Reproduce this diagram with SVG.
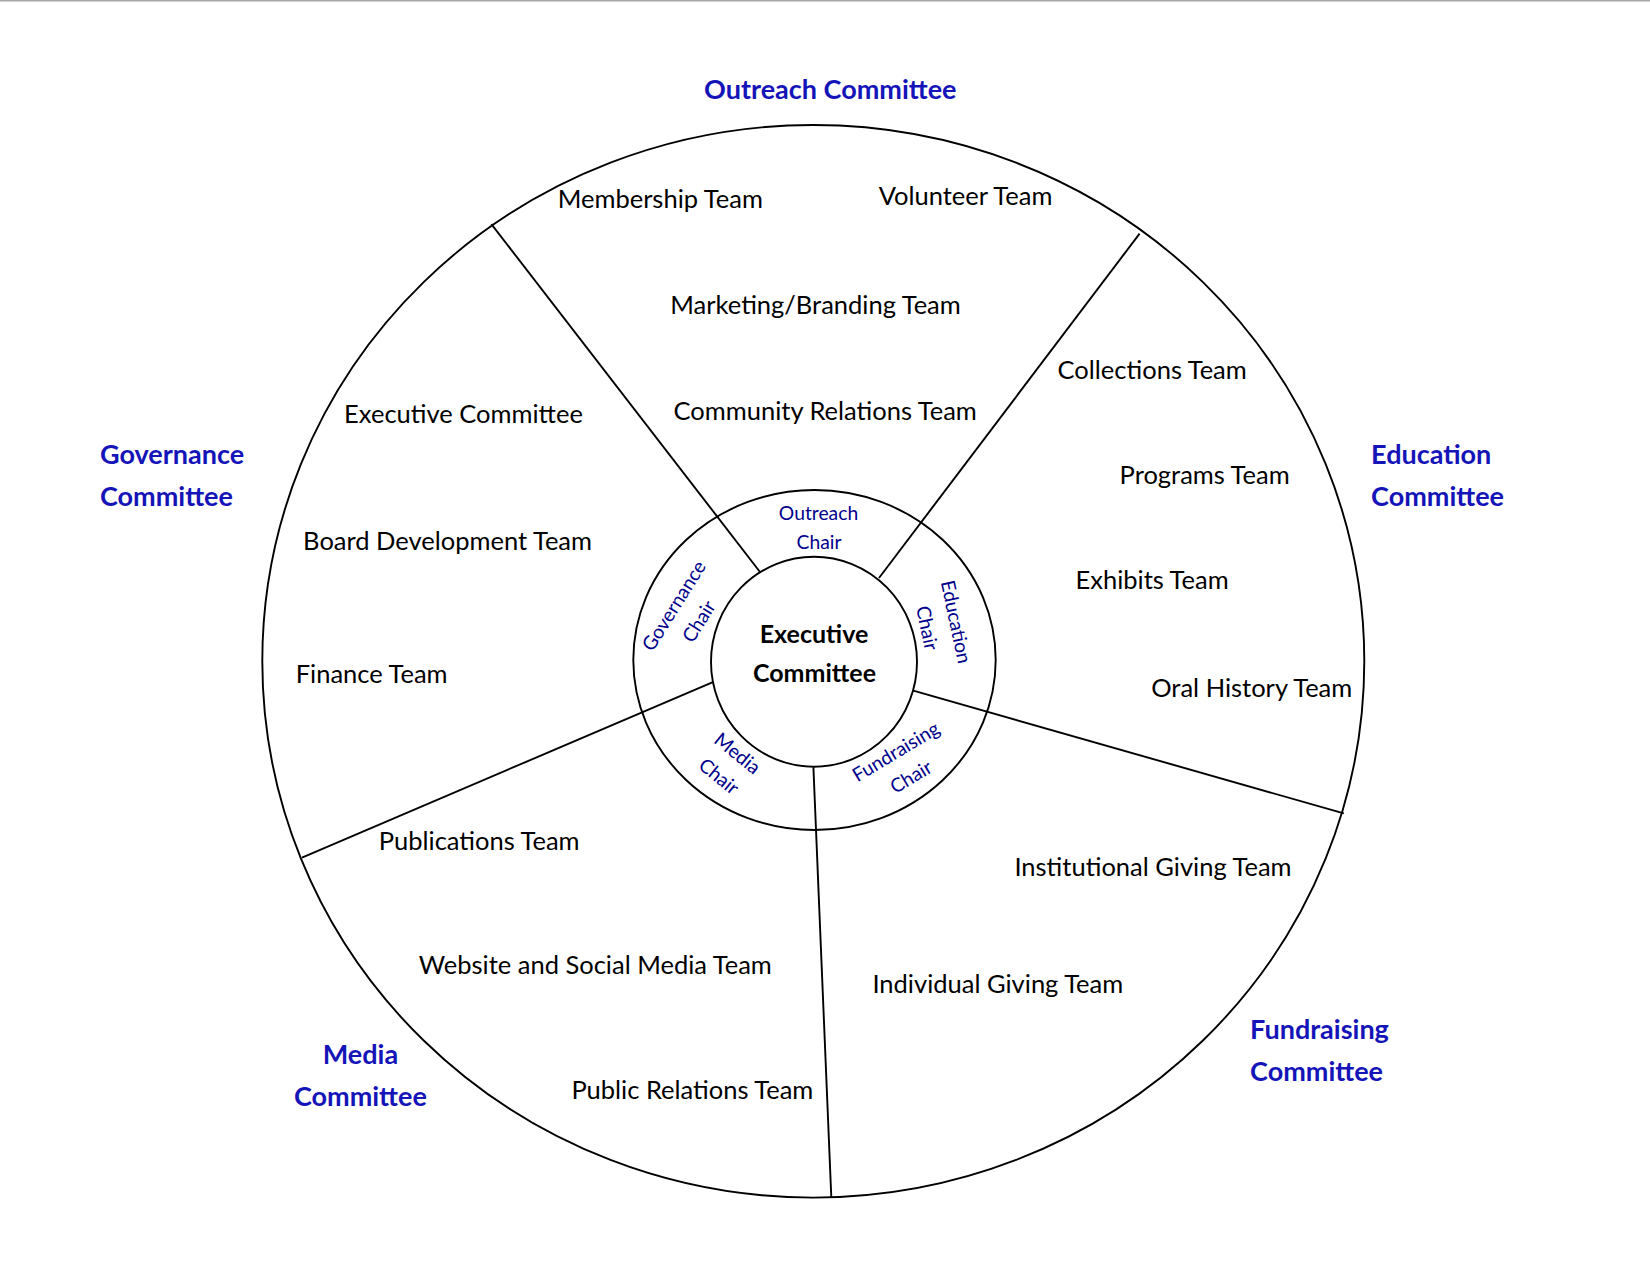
<svg xmlns="http://www.w3.org/2000/svg" width="1650" height="1275" viewBox="0 0 1650 1275">
<style>
.ring{fill:none;stroke:#000;stroke-width:1.9}
.spoke{stroke:#000;stroke-width:1.9;fill:none}
.team{font-family:Lato,"Liberation Sans",sans-serif;font-size:25.5px;fill:#000}
.comm{font-family:Lato,"Liberation Sans",sans-serif;font-size:27px;font-weight:bold;fill:#1414b8}
.exec{font-family:Lato,"Liberation Sans",sans-serif;font-size:25px;font-weight:bold;fill:#000;text-anchor:middle}
.chair{font-family:Lato,"Liberation Sans",sans-serif;font-size:19.3px;fill:#00008b;text-anchor:middle}
</style>
<rect x="0" y="0" width="1650" height="1275" fill="#fff"/>
<rect x="0" y="0" width="1650" height="1.5" fill="#a8a8a8"/>
<g id="wheel">
<ellipse class="ring" cx="813.3" cy="661.3" rx="551" ry="536.3"/>
<ellipse class="ring" cx="814.5" cy="660" rx="181.2" ry="170"/>
<ellipse class="ring" cx="814" cy="661.7" rx="103" ry="105"/>
</g>
<g id="spokes">
<line class="spoke" x1="491.4" y1="224.1" x2="760" y2="572"/>
<line class="spoke" x1="1139.6" y1="233.6" x2="879" y2="578"/>
<line class="spoke" x1="1343.8" y1="813.4" x2="913.3" y2="690.7"/>
<line class="spoke" x1="831.3" y1="1197.5" x2="813.4" y2="767.3"/>
<line class="spoke" x1="302" y1="857.6" x2="712.3" y2="682.3"/>
</g>
<g id="executive">
<text class="exec" x="814" y="643.3">Executive</text>
<text class="exec" x="814.5" y="682.3">Committee</text>
</g>
<g id="outreach">
<text class="comm" x="830.3" y="98.9" text-anchor="middle">Outreach Committee</text>
<text class="chair" x="818.5" y="520">Outreach</text>
<text class="chair" x="819" y="549.3">Chair</text>
<text class="team" x="557.7" y="208.4">Membership Team</text>
<text class="team" x="878.7" y="205.2">Volunteer Team</text>
<text class="team" x="670.3" y="313.6">Marketing/Branding Team</text>
<text class="team" x="673.5" y="419.9">Community Relations Team</text>
</g>
<g id="education">
<text class="comm" x="1371.1" y="464.1">Education</text>
<text class="comm" x="1371.1" y="506.2">Committee</text>
<g transform="translate(955.3,622) rotate(78)">
<text class="chair" x="0" y="6">Education</text>
<text class="chair" x="0" y="35.5">Chair</text>
</g>
<text class="team" x="1057.6" y="378.8">Collections Team</text>
<text class="team" x="1119.6" y="484.1">Programs Team</text>
<text class="team" x="1075.5" y="589.3">Exhibits Team</text>
<text class="team" x="1151.2" y="696.6">Oral History Team</text>
</g>
<g id="governance">
<text class="comm" x="100" y="464.1">Governance</text>
<text class="comm" x="100" y="506.2">Committee</text>
<g transform="translate(674.5,606.2) rotate(-58)">
<text class="chair" x="0" y="6">Governance</text>
<text class="chair" x="0" y="35.5">Chair</text>
</g>
<text class="team" x="344.1" y="423">Executive Committee</text>
<text class="team" x="303.1" y="550.4">Board Development Team</text>
<text class="team" x="295.7" y="682.9">Finance Team</text>
</g>
<g id="media">
<text class="comm" x="360.4" y="1063.9" text-anchor="middle">Media</text>
<text class="comm" x="360.4" y="1106" text-anchor="middle">Committee</text>
<g transform="translate(737,754) rotate(39)">
<text class="chair" x="0" y="6">Media</text>
<text class="chair" x="0" y="35.5">Chair</text>
</g>
<text class="team" x="378.8" y="850.3">Publications Team</text>
<text class="team" x="418.8" y="974.4">Website and Social Media Team</text>
<text class="team" x="571.4" y="1098.6">Public Relations Team</text>
</g>
<g id="fundraising">
<text class="comm" x="1250.1" y="1038.6">Fundraising</text>
<text class="comm" x="1250.1" y="1080.7">Committee</text>
<g transform="translate(896.2,752.3) rotate(-31)">
<text class="chair" x="0" y="6">Fundraising</text>
<text class="chair" x="0" y="35.5">Chair</text>
</g>
<text class="team" x="1014.4" y="875.5">Institutional Giving Team</text>
<text class="team" x="872.4" y="993.4">Individual Giving Team</text>
</g>
</svg>
